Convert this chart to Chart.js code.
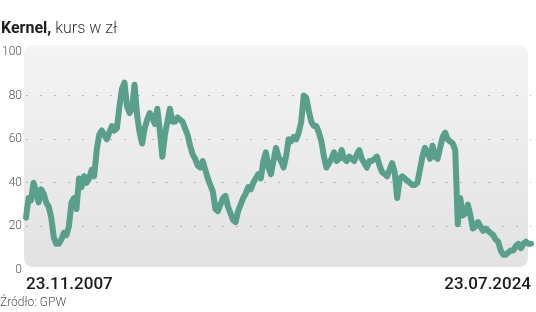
<!DOCTYPE html>
<html>
<head>
<meta charset="utf-8">
<script src="https://cdn.jsdelivr.net/npm/chart.js@4/dist/chart.umd.min.js"></script>
<style>
  html, body { margin: 0; padding: 0; background: #ffffff; }
  #wrap { position: relative; width: 536px; height: 312px; overflow: hidden; font-family: Roboto, "Noto Sans", sans-serif; }
  #c { position: absolute; left: 0; top: 0; }
  .title { position: absolute; left: 1px; top: 18px; font-size: 16px; line-height: 20px; color: #1e1e1e; white-space: nowrap; }
  .title b { font-weight: 700; }
  .title span { font-weight: 300; color: #333; }
  .source { position: absolute; left: 0px; top: 295px; font-size: 12px; line-height: 14px; color: #555; font-weight: 300; white-space: nowrap; }
</style>
</head>
<body>
<div id="wrap">
  <canvas id="c" width="536" height="312"></canvas>
  <div class="title"><b>Kernel,</b> <span>kurs w zł</span></div>
  <div class="source">Źródło: GPW</div>
</div>
<script>
// Kernel share price (PLN), roughly monthly readings from 23.11.2007 to 23.07.2024
const startDate = '23.11.2007';
const endDate = '23.07.2024';
const yTicks = [0, 20, 40, 60, 80, 100];
const prices = [
  24, 33, 32, 40, 36, 31, 37, 35, 31, 29,
  24, 15, 12, 12, 14, 17, 16, 20, 31, 33,
  28, 42, 38, 43, 40, 42, 46, 43, 55, 62,
  64, 62, 60, 63, 66, 64, 65, 75, 83, 86,
  75, 72, 74, 85, 71, 63, 58, 65, 69, 72,
  70, 67, 74, 64, 52, 62, 68, 74, 68, 68,
  70, 69, 68, 65, 62, 57, 53, 51, 48, 47,
  50, 46, 42, 39, 36, 28, 27, 30, 33, 34,
  29, 26, 23, 22, 27, 30, 33, 35, 38, 37,
  40, 42, 44, 42, 50, 54, 47, 44, 50, 56,
  52, 50, 47, 52, 60, 59, 61, 60, 63, 68,
  80, 79, 73, 68, 66, 66, 63, 59, 52, 47,
  49, 51, 54, 50, 51, 55, 51, 50, 52, 51,
  50, 53, 55, 51, 49, 47, 50, 50, 51, 52,
  48, 45, 44, 43, 46, 49, 45, 33, 42, 43,
  42, 41, 40, 39, 39, 40, 46, 52, 56, 54,
  51, 57, 52, 51, 56, 61, 63, 60, 59, 58,
  55, 21, 33, 25, 26, 30, 25, 19, 20, 22,
  20, 18, 19, 18, 17, 16, 14, 13, 9, 7,
  7, 8, 9, 9, 11, 12, 10, 12, 13, 12,
  12
];
const categories = prices.map((_, i) => i === 0 ? startDate : (i === prices.length - 1 ? endDate : ''));

const boxPlugin = {
  id: 'box',
  beforeDraw(chart) {
    const { ctx, chartArea: a } = chart;
    const x = a.left - 2, y = a.top - 7, w = a.right - 3 - x, h = a.bottom - 3 - y, r = 10;
    const g = ctx.createLinearGradient(0, y, 0, y + h);
    g.addColorStop(0, '#f4f4f5');
    g.addColorStop(1, '#e2e2e2');
    ctx.save();
    ctx.beginPath();
    ctx.moveTo(x + r, y);
    ctx.lineTo(x + w - r, y);
    ctx.quadraticCurveTo(x + w, y, x + w, y + r);
    ctx.lineTo(x + w, y + h - r);
    ctx.quadraticCurveTo(x + w, y + h, x + w - r, y + h);
    ctx.lineTo(x + r, y + h);
    ctx.quadraticCurveTo(x, y + h, x, y + h - r);
    ctx.lineTo(x, y + r);
    ctx.quadraticCurveTo(x, y, x + r, y);
    ctx.closePath();
    ctx.fillStyle = g;
    ctx.fill();
    ctx.restore();
  }
};

new Chart(document.getElementById('c'), {
  type: 'line',
  data: {
    labels: categories,
    datasets: [{
      data: prices,
      borderColor: '#599f8c',
      borderWidth: 6,
      pointRadius: 0,
      tension: 0,
      fill: false,
      borderJoinStyle: 'round',
      borderCapStyle: 'round'
    }]
  },
  options: {
    responsive: false,
    animation: false,
    layout: { padding: { top: 52, left: 0, right: 0, bottom: 0 } },
    plugins: { legend: { display: false }, tooltip: { enabled: false } },
    scales: {
      x: {
        type: 'category',
        offset: false,
        grid: { display: false, drawTicks: false },
        border: { display: false },
        afterFit(scale) { scale.height = 42; },
        ticks: {
          autoSkip: false,
          maxRotation: 0,
          minRotation: 0,
          align: 'inner',
          padding: 5,
          color: '#1a1a1a',
          font: { family: 'Roboto', size: 17, weight: '500' },
          callback(value) { return this.getLabelForValue(value); }
        }
      },
      y: {
        min: 0,
        max: 100,
        afterBuildTicks(scale) { scale.ticks = yTicks.map(v => ({ value: v })); },
        afterFit(scale) { scale.width = 26; },
        border: { display: false, dash: [2, 12] },
        grid: {
          drawTicks: false,
          lineWidth: 1,
          color: (c) => (c.tick && c.tick.value > 0 && c.tick.value < 100) ? '#b4b4b4' : 'rgba(0,0,0,0)'
        },
        ticks: {
          padding: 4,
          color: '#555555',
          font: { family: 'Roboto', size: 12, weight: '300' }
        }
      }
    }
  },
  plugins: [boxPlugin]
});
</script>
</body>
</html>
